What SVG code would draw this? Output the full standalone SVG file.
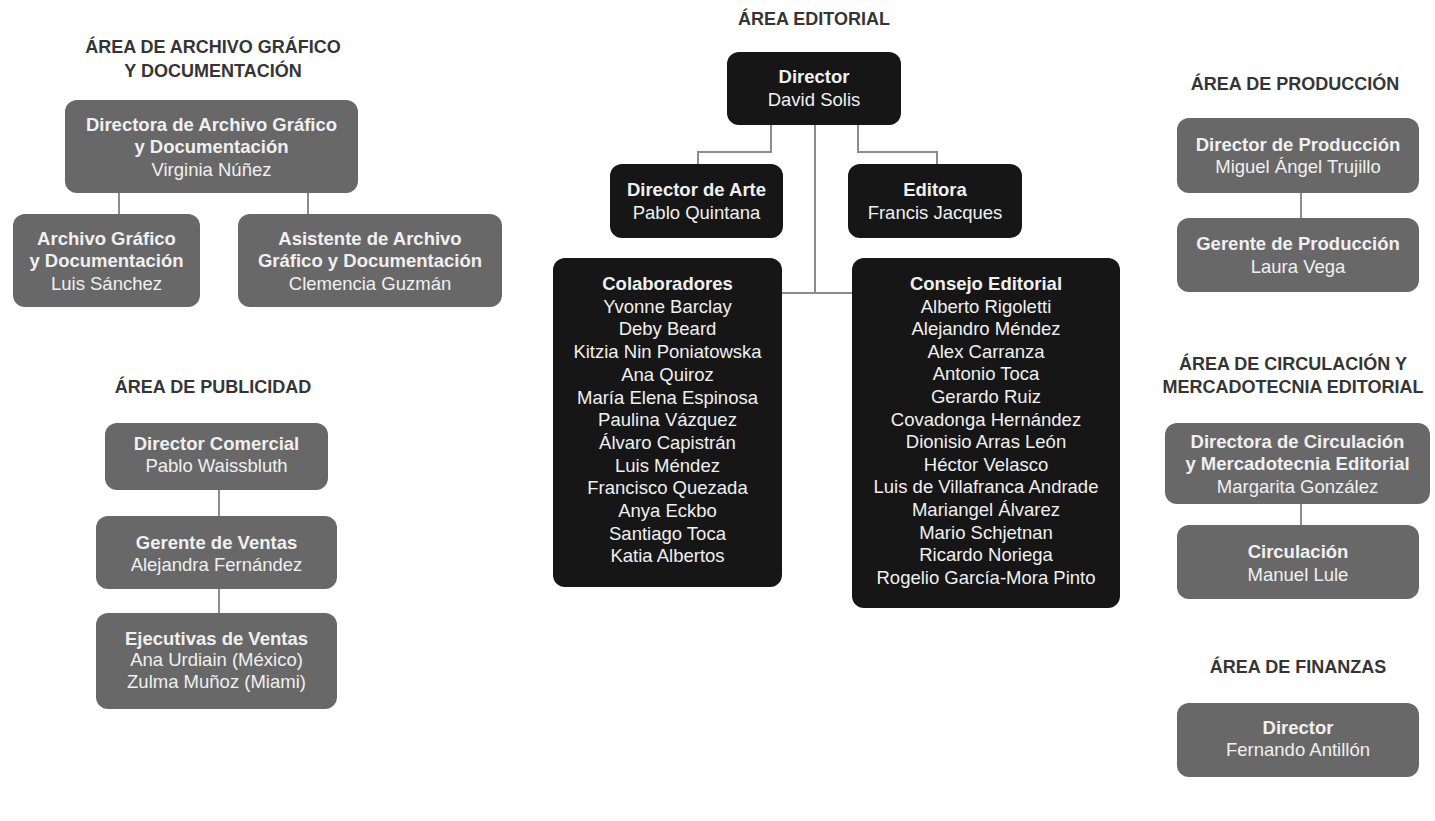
<svg xmlns="http://www.w3.org/2000/svg" width="1435" height="821" viewBox="0 0 1435 821">
<style>
text{font-family:"Liberation Sans",Arial,sans-serif;text-anchor:middle}
.h{font-size:18px;font-weight:bold;fill:#353535}
.t{font-size:18.5px;fill:#f0f0f0}
.b{font-weight:bold}
.g{fill:#686868}
.k{fill:#161616}
.c{fill:none;stroke:#8c8c8c;stroke-width:2}
</style>
<rect width="1435" height="821" fill="#ffffff"/>
<g id="headers">
<text class="h" x="213" y="53">ÁREA DE ARCHIVO GRÁFICO</text>
<text class="h" x="213" y="77">Y DOCUMENTACIÓN</text>
<text class="h" x="213" y="393">ÁREA DE PUBLICIDAD</text>
<text class="h" x="814" y="25">ÁREA EDITORIAL</text>
<text class="h" x="1295" y="90">ÁREA DE PRODUCCIÓN</text>
<text class="h" x="1293" y="370">ÁREA DE CIRCULACIÓN Y</text>
<text class="h" x="1293" y="393">MERCADOTECNIA EDITORIAL</text>
<text class="h" x="1298" y="673">ÁREA DE FINANZAS</text>
</g>
<g id="connectors">
<path class="c" d="M119,193V214M308,193V214"/>
<path class="c" d="M219,490V516M219,589V613"/>
<path class="c" d="M771,125V152H698V164M858,125V152H937V164M815,125V293M782,293H852"/>
<path class="c" d="M1301,193V218M1301,504V525"/>
</g>
<g id="n_arch_dir">
<rect class="g" x="65" y="100" width="293" height="93" rx="12"/>
<text class="t b" x="211.5" y="131">Directora de Archivo Gráfico</text>
<text class="t b" x="211.5" y="153">y Documentación</text>
<text class="t" x="211.5" y="176">Virginia Núñez</text>
</g>
<g id="n_arch_doc">
<rect class="g" x="13" y="214" width="187" height="93" rx="12"/>
<text class="t b" x="106.5" y="245">Archivo Gráfico</text>
<text class="t b" x="106.5" y="267">y Documentación</text>
<text class="t" x="106.5" y="290">Luis Sánchez</text>
</g>
<g id="n_arch_asist">
<rect class="g" x="238" y="214" width="264" height="93" rx="12"/>
<text class="t b" x="370" y="245">Asistente de Archivo</text>
<text class="t b" x="370" y="267">Gráfico y Documentación</text>
<text class="t" x="370" y="290">Clemencia Guzmán</text>
</g>
<g id="n_pub_dir">
<rect class="g" x="105" y="423" width="223" height="67" rx="12"/>
<text class="t b" x="216.5" y="450">Director Comercial</text>
<text class="t" x="216.5" y="472">Pablo Waissbluth</text>
</g>
<g id="n_pub_ger">
<rect class="g" x="96" y="516" width="241" height="73" rx="12"/>
<text class="t b" x="216.5" y="549">Gerente de Ventas</text>
<text class="t" x="216.5" y="571">Alejandra Fernández</text>
</g>
<g id="n_pub_ejec">
<rect class="g" x="96" y="613" width="241" height="96" rx="12"/>
<text class="t b" x="216.5" y="645">Ejecutivas de Ventas</text>
<text class="t" x="216.5" y="666">Ana Urdiain (México)</text>
<text class="t" x="216.5" y="688">Zulma Muñoz (Miami)</text>
</g>
<g id="n_ed_dir">
<rect class="k" x="727" y="52" width="174" height="73" rx="12"/>
<text class="t b" x="814" y="83">Director</text>
<text class="t" x="814" y="106">David Solis</text>
</g>
<g id="n_ed_arte">
<rect class="k" x="610" y="164" width="173" height="74" rx="12"/>
<text class="t b" x="696.5" y="196">Director de Arte</text>
<text class="t" x="696.5" y="219">Pablo Quintana</text>
</g>
<g id="n_ed_editora">
<rect class="k" x="848" y="164" width="174" height="74" rx="12"/>
<text class="t b" x="935" y="196">Editora</text>
<text class="t" x="935" y="219">Francis Jacques</text>
</g>
<g id="n_ed_colab">
<rect class="k" x="553" y="258" width="229" height="329" rx="12"/>
<text class="t b" x="667.5" y="290">Colaboradores</text>
<text class="t" x="667.5" y="312.7">Yvonne Barclay</text>
<text class="t" x="667.5" y="335.4">Deby Beard</text>
<text class="t" x="667.5" y="358.1">Kitzia Nin Poniatowska</text>
<text class="t" x="667.5" y="380.8">Ana Quiroz</text>
<text class="t" x="667.5" y="403.5">María Elena Espinosa</text>
<text class="t" x="667.5" y="426.2">Paulina Vázquez</text>
<text class="t" x="667.5" y="448.9">Álvaro Capistrán</text>
<text class="t" x="667.5" y="471.6">Luis Méndez</text>
<text class="t" x="667.5" y="494.3">Francisco Quezada</text>
<text class="t" x="667.5" y="517">Anya Eckbo</text>
<text class="t" x="667.5" y="539.7">Santiago Toca</text>
<text class="t" x="667.5" y="562.4">Katia Albertos</text>
</g>
<g id="n_ed_consejo">
<rect class="k" x="852" y="258" width="268" height="350" rx="12"/>
<text class="t b" x="986" y="290">Consejo Editorial</text>
<text class="t" x="986" y="312.6">Alberto Rigoletti</text>
<text class="t" x="986" y="335.2">Alejandro Méndez</text>
<text class="t" x="986" y="357.8">Alex Carranza</text>
<text class="t" x="986" y="380.4">Antonio Toca</text>
<text class="t" x="986" y="403">Gerardo Ruiz</text>
<text class="t" x="986" y="425.6">Covadonga Hernández</text>
<text class="t" x="986" y="448.2">Dionisio Arras León</text>
<text class="t" x="986" y="470.8">Héctor Velasco</text>
<text class="t" x="986" y="493.4">Luis de Villafranca Andrade</text>
<text class="t" x="986" y="516">Mariangel Álvarez</text>
<text class="t" x="986" y="538.6">Mario Schjetnan</text>
<text class="t" x="986" y="561.2">Ricardo Noriega</text>
<text class="t" x="986" y="583.8">Rogelio García-Mora Pinto</text>
</g>
<g id="n_prod_dir">
<rect class="g" x="1177" y="118" width="242" height="75" rx="12"/>
<text class="t b" x="1298" y="151">Director de Producción</text>
<text class="t" x="1298" y="173">Miguel Ángel Trujillo</text>
</g>
<g id="n_prod_ger">
<rect class="g" x="1177" y="218" width="242" height="74" rx="12"/>
<text class="t b" x="1298" y="250">Gerente de Producción</text>
<text class="t" x="1298" y="273">Laura Vega</text>
</g>
<g id="n_circ_dir">
<rect class="g" x="1165" y="423" width="265" height="81" rx="12"/>
<text class="t b" x="1297.5" y="448">Directora de Circulación</text>
<text class="t b" x="1297.5" y="470">y Mercadotecnia Editorial</text>
<text class="t" x="1297.5" y="493">Margarita González</text>
</g>
<g id="n_circ">
<rect class="g" x="1177" y="525" width="242" height="74" rx="12"/>
<text class="t b" x="1298" y="558">Circulación</text>
<text class="t" x="1298" y="581">Manuel Lule</text>
</g>
<g id="n_fin_dir">
<rect class="g" x="1177" y="703" width="242" height="74" rx="12"/>
<text class="t b" x="1298" y="734">Director</text>
<text class="t" x="1298" y="756">Fernando Antillón</text>
</g>
</svg>
